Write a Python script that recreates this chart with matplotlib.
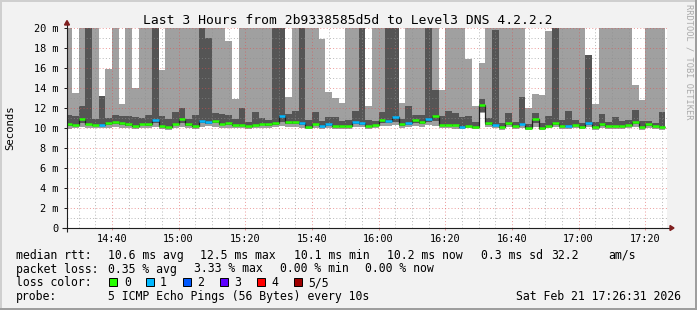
import matplotlib
matplotlib.use('Agg')
import matplotlib.pyplot as plt
from matplotlib.patches import Rectangle, Polygon
import numpy as np

W, H = 697, 310

# ---------------- data ----------------
# 90 bins of 2 minutes, first bin starts 14:26 ; x axis = minutes after 14:00
bin_start_min = 26
bin_len = 2
view_start = 26 + 31 / 60.0
view_end = 206 + 31 / 60.0

# smoke: min ping, 2nd ping, 4th ping, max ping (ms); 25 = above the 20 ms top
smoke_min = [9.9, 10.0, 10.1, 10.0, 10.0, 10.0, 10.0, 10.1, 10.0, 10.0,
             9.9, 10.0, 10.0, 10.1, 9.9, 9.8, 10.0, 10.1, 10.0, 9.9,
             10.1, 10.2, 10.1, 10.0, 10.0, 10.0, 10.0, 9.9, 10.0, 10.0,
             10.0, 10.1, 10.2, 10.1, 10.1, 10.0, 9.9, 10.0, 9.9, 10.0,
             9.9, 9.9, 9.9, 10.1, 10.1, 9.9, 10.0, 10.2, 10.2, 10.3,
             10.0, 10.1, 10.2, 10.1, 10.3, 10.2, 10.0, 10.0, 9.9, 9.9,
             10.0, 9.9, 11.5, 10.1, 10.0, 9.8, 10.1, 9.9, 10.0, 9.8,
             10.1, 9.8, 10.0, 10.1, 9.9, 9.9, 10.0, 9.9, 10.1, 9.8,
             10.0, 9.9, 9.9, 9.9, 10.0, 10.1, 9.8, 10.0, 9.9, 9.8]
smoke_low = [10.25, 10.2, 10.5, 10.3, 10.2, 10.2, 10.35, 10.4, 10.35, 10.25,
             10.1, 10.3, 10.25, 10.5, 10.1, 10.0, 10.3, 10.5, 10.25, 10.1,
             10.5, 10.4, 10.5, 10.3, 10.35, 10.2, 10.2, 10.1, 10.2, 10.3,
             10.25, 10.35, 10.6, 10.4, 10.4, 10.35, 10.0, 10.3, 10.1, 10.25,
             10.1, 10.1, 10.1, 10.4, 10.35, 10.1, 10.2, 10.5, 10.5, 10.6,
             10.25, 10.35, 10.5, 10.4, 10.6, 10.7, 10.2, 10.2, 10.2, 10.0,
             10.1, 10.0, 11.6, 10.35, 10.2, 10.0, 10.35, 10.1, 10.3, 9.9,
             10.5, 9.9, 10.1, 10.35, 10.1, 10.1, 10.2, 10.0, 10.35, 10.0,
             10.25, 10.1, 10.1, 10.1, 10.2, 10.4, 10.0, 10.25, 10.1, 10.0]
smoke_high = [11.3, 11.2, 12.2, 25, 10.9, 13.2, 11.0, 11.3, 11.2, 11.2,
              11.1, 11.0, 11.3, 25, 11.2, 10.9, 11.6, 12.0, 10.9, 11.3,
              25, 19.0, 11.5, 11.45, 11.3, 10.9, 12.0, 10.6, 11.6, 11.0,
              10.85, 25, 25, 11.4, 11.7, 25, 10.8, 11.6, 10.7, 11.1,
              11.1, 10.7, 10.8, 11.7, 25, 10.8, 10.7, 11.6, 25, 25,
              10.9, 12.2, 11.3, 11.3, 25, 13.8, 11.2, 11.7, 11.5, 11.1,
              11.2, 10.6, 12.9, 11.0, 19.8, 10.55, 11.5, 10.65, 13.1, 10.4,
              11.5, 10.55, 11.2, 25, 10.85, 11.7, 10.8, 10.55, 17.3, 10.6,
              11.4, 10.65, 11.1, 10.75, 10.8, 11.8, 10.75, 10.75, 10.55, 11.6]
smoke_max = [25, 13.5, 25, 25, 25, 13.2, 15.9, 25, 12.4, 25,
             14.0, 25, 25, 25, 15.8, 25, 25, 25, 25, 25,
             25, 25, 25, 25, 18.7, 12.9, 25, 25, 25, 25,
             25, 25, 25, 13.1, 25, 25, 25, 25, 18.9, 13.6,
             13.0, 12.5, 25, 25, 25, 12.2, 25, 25, 25, 25,
             12.5, 25, 25, 25, 25, 25, 13.8, 25, 25, 25,
             16.9, 12.2, 16.5, 25, 25, 25, 25, 25, 25, 12.0,
             13.4, 13.3, 19.7, 25, 25, 25, 25, 25, 17.3, 12.4,
             25, 25, 25, 25, 25, 14.3, 12.8, 25, 25, 25]
median = [10.4, 10.35, 10.9, 10.45, 10.35, 10.35, 10.55, 10.65, 10.55, 10.4,
          10.2, 10.45, 10.4, 10.8, 10.2, 10.1, 10.45, 10.9, 10.4, 10.25,
          10.75, 10.6, 10.75, 10.45, 10.55, 10.35, 10.35, 10.2, 10.35, 10.45,
          10.4, 10.55, 11.25, 10.65, 10.65, 10.55, 10.1, 10.45, 10.2, 10.45,
          10.2, 10.2, 10.2, 10.6, 10.55, 10.25, 10.35, 10.85, 10.75, 11.15,
          10.4, 10.55, 10.85, 10.65, 10.95, 11.25, 10.35, 10.35, 10.35, 10.15,
          10.25, 10.1, 12.3, 10.55, 10.35, 10.1, 10.55, 10.25, 10.45, 10.0,
          10.9, 10.0, 10.25, 10.55, 10.25, 10.25, 10.35, 10.1, 10.55, 10.1,
          10.4, 10.25, 10.25, 10.25, 10.35, 10.6, 10.1, 10.4, 10.25, 10.1]
loss = [0, 0, 0, 0, 0, 1, 0, 0, 0, 0,
        0, 0, 0, 1, 0, 0, 0, 0, 0, 0,
        1, 1, 0, 0, 0, 0, 0, 0, 0, 0,
        0, 0, 1, 0, 0, 1, 0, 0, 1, 1,
        0, 0, 0, 1, 1, 0, 0, 0, 1, 1,
        0, 1, 0, 0, 1, 0, 0, 0, 0, 1,
        0, 0, 0, 0, 1, 0, 0, 0, 1, 0,
        0, 0, 0, 0, 0, 1, 0, 0, 1, 0,
        0, 0, 0, 0, 0, 0, 0, 0, 0, 0]

loss_colors = ['#26ff00', '#00b8ff', '#0059ff', '#5e00ff', '#ff0000', '#a00000']
loss_labels = ['0', '1', '2', '3', '4', '5/5']

xtick_minutes = [40, 60, 80, 100, 120, 140, 160, 180, 200]
xtick_labels = ['14:40', '15:00', '15:20', '15:40', '16:00', '16:20', '16:40', '17:00', '17:20']
ytick_values = [0, 2, 4, 6, 8, 10, 12, 14, 16, 18, 20]
ytick_labels = ['0', '2 m', '4 m', '6 m', '8 m', '10 m', '12 m', '14 m', '16 m', '18 m', '20 m']

title = 'Last 3 Hours from 2b9338585d5d to Level3 DNS 4.2.2.2'
rtt_items = [('median rtt:', 16), ('10.6 ms avg', 108), ('12.5 ms max', 199.5),
             ('10.1 ms min', 294), ('10.2 ms now', 387.5), ('0.3 ms sd', 481),
             ('32.2', 551), ('am/s', 608)]
loss_items = [('packet loss:', 16), ('0.35 % avg', 108), ('3.33 % max', 194),
              ('0.00 % min', 280), ('0.00 % now', 365)]
probe_text = '5 ICMP Echo Pings (56 Bytes) every 10s'
date_text = 'Sat Feb 21 17:26:31 2026'

# ---------------- style ----------------
MONO = 'DejaVu Sans Mono'
plt.rcParams['font.family'] = [MONO]
LIGHT = '#a0a0a0'
DARK = '#555555'
GRID = (0.56, 0.56, 0.56, 0.6)
MGRID = (0.87, 0.31, 0.31, 0.55)
AXIS = '#1f1f1f'
ARROW = '#801f1f'
DOTS = (0, (1, 2.2))


def fx(px):
    return px / W


def fy(py):
    return 1 - py / H


fig = plt.figure(figsize=(W / 100, H / 100), dpi=100)
fig.patch.set_facecolor('#f2f2f2')

ax = fig.add_axes([fx(67), fy(228), 600 / W, 200 / H])
ax.set_facecolor('white')
ax.set_xlim(view_start, view_end)
ax.set_ylim(0, 20)
for s in ax.spines.values():
    s.set_visible(False)

n = len(median)
edges = bin_start_min + bin_len * np.arange(n + 1)

ax.stairs(smoke_max, edges, baseline=smoke_min, fill=True, color=LIGHT, lw=0, zorder=1)
ax.stairs(smoke_high, edges, baseline=smoke_low, fill=True, color=DARK, lw=0, zorder=2)

# grid
for m in range(30, 207, 5):
    if m % 20 == 0:
        continue
    ax.axvline(m, color=GRID, lw=0.72, ls=DOTS, zorder=3)
for m in xtick_minutes:
    ax.axvline(m, color=MGRID, lw=0.72, ls=DOTS, zorder=3)
for v in range(1, 20, 2):
    ax.axhline(v, color=GRID, lw=0.72, ls=DOTS, zorder=3)
for v in range(2, 21, 2):
    ax.axhline(v, color=MGRID, lw=0.72, ls=DOTS, zorder=3)

# median
ax.stairs(median, edges, baseline=None, color='#202020', lw=0.9, zorder=4)
ax.hlines(median, edges[:-1], edges[1:], colors=[loss_colors[l] for l in loss],
          lw=1.8, zorder=5, capstyle='butt')

# axes lines and arrows
px_x = 180 / 600.0
px_y = 20 / 200.0
ax.plot([view_start - 5 * px_x, view_end + 4 * px_x], [0, 0], color=AXIS, lw=0.8,
        clip_on=False, zorder=6, solid_capstyle='butt')
ax.plot([view_start, view_start], [-4 * px_y, 20.4], color=AXIS, lw=0.8,
        clip_on=False, zorder=6, solid_capstyle='butt')
ax.add_patch(Polygon([(view_start - 2.5 * px_x, 20.3), (view_start + 2.5 * px_x, 20.3),
                      (view_start, 20.75)], closed=True, color=ARROW, clip_on=False, zorder=7))
ax.add_patch(Polygon([(view_end + 3 * px_x, -2.5 * px_y), (view_end + 3 * px_x, 2.5 * px_y),
                      (view_end + 7 * px_x, 0)], closed=True, color=ARROW, clip_on=False, zorder=7))

ax.set_yticks(ytick_values, ytick_labels)
ax.set_xticks(xtick_minutes, xtick_labels)
ax.tick_params(axis='y', length=2.5, width=0.72, color=AXIS, pad=3.4, labelsize=7.4)
ax.tick_params(axis='x', length=1.5, width=0.72, color=MGRID, pad=2.6, labelsize=7.4)

# texts
fig.text(fx(348), fy(24), title, ha='center', va='baseline', fontsize=9.4, color='black')
fig.text(fx(10), fy(128), 'Seconds', rotation=90, ha='center', va='center', fontsize=7.7)
fig.text(fx(689), fy(4), 'RRDTOOL / TOBI OETIKER', rotation=270, ha='center', va='top',
         fontsize=6.2, color='#aaaaaa')

LFS = 8.3
for txt, x in rtt_items:
    fig.text(fx(x), fy(259), txt, ha='left', va='baseline', fontsize=LFS)
for txt, x in loss_items:
    fig.text(fx(x), fy(272.5), txt, ha='left', va='baseline', fontsize=LFS)
fig.text(fx(16), fy(286), 'loss color:', ha='left', va='baseline', fontsize=LFS)
box_x = [109, 146, 183, 220, 257, 293.5]
lab_x = [124, 160, 197, 234, 271, 308]
for col, lab, bx, lx in zip(loss_colors, loss_labels, box_x, lab_x):
    fig.add_artist(Rectangle((fx(bx), fy(286)), 8 / W, 8 / H, transform=fig.transFigure,
                             facecolor=col, edgecolor='black', lw=0.7))
    fig.text(fx(lx), fy(286), lab, ha='left', va='baseline', fontsize=LFS)
fig.text(fx(16), fy(300), 'probe:', ha='left', va='baseline', fontsize=LFS)
fig.text(fx(108), fy(300), probe_text, ha='left', va='baseline', fontsize=LFS)
fig.text(fx(681), fy(300), date_text, ha='right', va='baseline', fontsize=LFS)

# frame shading
fig.add_artist(Rectangle((0, 0), 2 / W, 1, transform=fig.transFigure, color='#cfcfcf', lw=0))
fig.add_artist(Rectangle((0, 1 - 2 / H), 1, 2 / H, transform=fig.transFigure, color='#cfcfcf', lw=0))
fig.add_artist(Rectangle((0, 0), 1, 2 / H, transform=fig.transFigure, color='#9e9e9e', lw=0))
fig.add_artist(Rectangle((1 - 2 / W, 0), 2 / W, 1, transform=fig.transFigure, color='#9e9e9e', lw=0))

fig.savefig('out.png', dpi=100, facecolor=fig.get_facecolor())
